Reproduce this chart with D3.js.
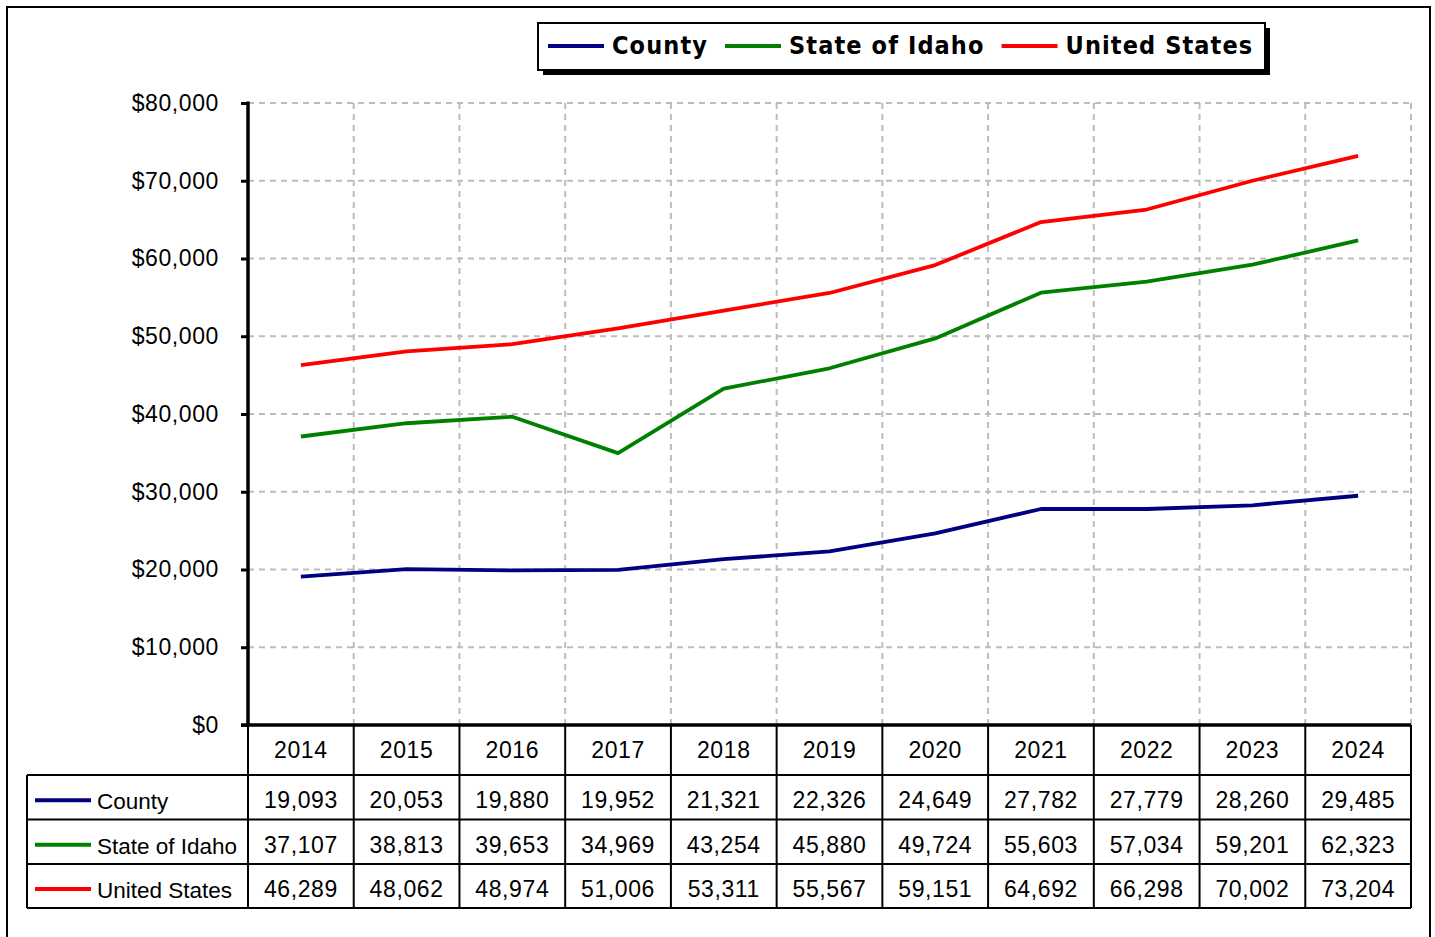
<!DOCTYPE html>
<html>
<head>
<meta charset="utf-8">
<script src="https://cdn.jsdelivr.net/npm/d3@7"></script>
<style>
  body { margin: 0; background: #fff; }
  svg { display: block; }
</style>
</head>
<body>
<div id="chart"></div>
<script>
// données
const annees = ["2014", "2015", "2016", "2017", "2018", "2019", "2020", "2021", "2022", "2023", "2024"];
const county = [19093, 20053, 19880, 19952, 21321, 22326, 24649, 27782, 27779, 28260, 29485];
const idaho = [37107, 38813, 39653, 34969, 43254, 45880, 49724, 55603, 57034, 59201, 62323];
const usa = [46289, 48062, 48974, 51006, 53311, 55567, 59151, 64692, 66298, 70002, 73204];
const noms = ["County", "State of Idaho", "United States"];
const couleurs = ["#000080", "#008000", "#ff0000"];
const yTicks = [0, 10000, 20000, 30000, 40000, 50000, 60000, 70000, 80000];

const series = [county, idaho, usa];

const W = 1435, H = 937;
const gauche = 248, droite = 1411, haut = 103, bas = 725;
const tableGauche = 27;
const lignesTable = [775, 819.5, 864, 908]; // bords des lignes du tableau

const svg = d3.select("#chart").append("svg")
  .attr("width", W).attr("height", H);

svg.append("rect").attr("width", W).attr("height", H).attr("fill", "#fff");

// cadre extérieur
svg.append("rect")
  .attr("x", 7).attr("y", 7).attr("width", 1423).attr("height", 1000)
  .attr("fill", "none").attr("stroke", "#000").attr("stroke-width", 2);

const x = d3.scaleBand().domain(annees).range([gauche, droite]);
const y = d3.scaleLinear().domain([0, 80000]).range([bas, haut]);

// grille
const grille = svg.append("g").attr("stroke", "#bdbdbd").attr("stroke-width", 2)
  .attr("stroke-dasharray", "6,5");
grille.selectAll(".gh").data(yTicks.slice(1)).join("line")
  .attr("x1", gauche).attr("x2", droite)
  .attr("y1", d => y(d)).attr("y2", d => y(d));
grille.selectAll(".gv").data(annees).join("line")
  .attr("x1", d => x(d) + x.bandwidth()).attr("x2", d => x(d) + x.bandwidth())
  .attr("y1", haut).attr("y2", bas);

// lignes
const ligne = d3.line()
  .x((d, i) => x(annees[i]) + x.bandwidth() / 2)
  .y(d => y(d));
series.forEach((s, k) => {
  svg.append("path").datum(s)
    .attr("d", ligne)
    .attr("fill", "none")
    .attr("stroke", couleurs[k])
    .attr("stroke-width", 3.8)
    .attr("stroke-linejoin", "round");
});

const police = "Liberation Sans, Arial, sans-serif";

// axe y
const axeY = d3.axisLeft(y).tickValues(yTicks).tickSize(7).tickPadding(22)
  .tickFormat(d => "$" + d3.format(",")(d));
const gy = svg.append("g").attr("transform", `translate(${gauche},0)`).call(axeY);
gy.select(".domain").remove();
gy.selectAll(".tick line").attr("stroke", "#000").attr("stroke-width", 3);
gy.selectAll(".tick text")
  .attr("font-family", police)
  .attr("font-size", 23).attr("letter-spacing", 0.6).attr("fill", "#000");
svg.append("line")
  .attr("x1", gauche).attr("x2", gauche).attr("y1", haut - 1.5).attr("y2", bas + 1.5)
  .attr("stroke", "#000").attr("stroke-width", 3.5);
svg.append("line")
  .attr("x1", gauche - 7).attr("x2", droite).attr("y1", bas).attr("y2", bas)
  .attr("stroke", "#000").attr("stroke-width", 3.5);

// tableau de données
const table = svg.append("g").attr("stroke", "#000").attr("stroke-width", 2);
annees.forEach(a => {
  table.append("line")
    .attr("x1", x(a) + x.bandwidth()).attr("x2", x(a) + x.bandwidth())
    .attr("y1", bas).attr("y2", lignesTable[3]);
});
table.append("line").attr("x1", gauche).attr("x2", gauche)
  .attr("y1", bas).attr("y2", lignesTable[3]);
table.append("line").attr("x1", tableGauche).attr("x2", tableGauche)
  .attr("y1", lignesTable[0]).attr("y2", lignesTable[3]);
lignesTable.forEach(ly => {
  table.append("line").attr("x1", tableGauche).attr("x2", droite)
    .attr("y1", ly).attr("y2", ly);
});

svg.append("g").selectAll("text").data(annees).join("text")
  .attr("x", d => x(d) + x.bandwidth() / 2)
  .attr("y", (bas + lignesTable[0]) / 2 + 1.5)
  .attr("text-anchor", "middle").attr("dominant-baseline", "middle")
  .attr("font-family", police).attr("font-size", 23).attr("letter-spacing", 0.6)
  .text(d => d);

series.forEach((s, k) => {
  const cy = (lignesTable[k] + lignesTable[k + 1]) / 2 + 3;
  svg.append("line")
    .attr("x1", 35).attr("x2", 91).attr("y1", cy).attr("y2", cy)
    .attr("stroke", couleurs[k]).attr("stroke-width", 3.8);
  svg.append("text")
    .attr("x", 97).attr("y", cy + 3)
    .attr("dominant-baseline", "middle")
    .attr("font-family", police).attr("font-size", 22.5)
    .text(noms[k]);
  svg.append("g").selectAll("text").data(s).join("text")
    .attr("x", (d, i) => x(annees[i]) + x.bandwidth() / 2)
    .attr("y", cy + 2)
    .attr("text-anchor", "middle").attr("dominant-baseline", "middle")
    .attr("font-family", police).attr("font-size", 23).attr("letter-spacing", 0.6)
    .text(d => d3.format(",")(d));
});

// légende
const leg = svg.append("g");
leg.append("rect").attr("x", 543).attr("y", 28).attr("width", 727).attr("height", 47)
  .attr("fill", "#000");
leg.append("rect").attr("x", 538).attr("y", 23).attr("width", 727).attr("height", 47)
  .attr("fill", "#fff").attr("stroke", "#000").attr("stroke-width", 2);
let lx = 548;
noms.forEach((n, k) => {
  leg.append("line").attr("x1", lx).attr("x2", lx + 56).attr("y1", 46).attr("y2", 46)
    .attr("stroke", couleurs[k]).attr("stroke-width", 3.8);
  const t = leg.append("text")
    .attr("x", lx + 64).attr("y", 47)
    .attr("dominant-baseline", "middle")
    .attr("font-family", "DejaVu Sans Condensed, DejaVu Sans, sans-serif")
    .attr("font-stretch", "condensed")
    .attr("font-weight", "bold").attr("font-size", 25).attr("letter-spacing", 1.1)
    .text(n);
  lx += 64 + t.node().getComputedTextLength() + 17;
});
</script>
</body>
</html>
